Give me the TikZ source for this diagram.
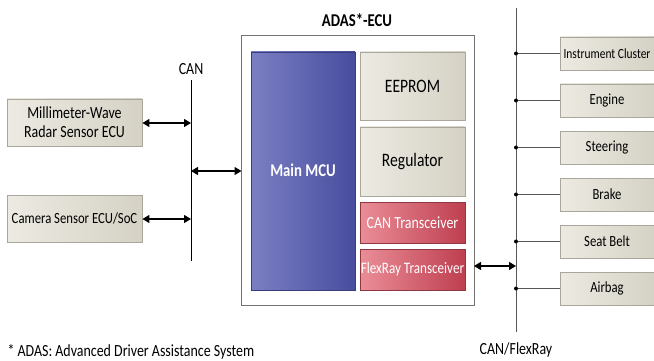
\documentclass[tikz,border=0pt]{standalone}
\usepackage{fontspec}
\setmainfont[FakeStretch=0.82]{Carlito}
\usetikzlibrary{arrows.meta}
\definecolor{beigeL}{HTML}{ECEAE2}
\definecolor{beigeR}{HTML}{D5D2C5}
\definecolor{beigeB}{HTML}{A9A79C}
\definecolor{blueL}{HTML}{7B80C3}
\definecolor{blueR}{HTML}{474C9E}
\definecolor{redL}{HTML}{EA8D97}
\definecolor{redR}{HTML}{BE3F50}
\definecolor{redB}{HTML}{8E3845}
\definecolor{busgray}{HTML}{555555}
\newcommand{\fs}[1]{\fontsize{#1}{#1}\selectfont}
\tikzset{
  graybox/.style={draw=beigeB, line width=0.8pt, left color=beigeL, right color=beigeR, align=center, font=\fs{16}, inner sep=0pt},
  redbox/.style={draw=redB, line width=0.8pt, left color=redL, right color=redR, text=white, inner sep=0pt},
  bidir/.style={{Triangle[length=7pt,width=8pt]}-{Triangle[length=7pt,width=8pt]}, line width=1.1pt, black},
  tap/.style={line width=0.9pt, busgray},
  busline/.style={line width=1pt, busgray},
  dot/.style={circle, fill=black, inner sep=0pt, minimum size=4pt},
}
\begin{document}
\begin{tikzpicture}[x=1pt,y=-1pt]
\useasboundingbox (0,0) rectangle (654,361);
% ECU
\node[font=\fs{18}\bfseries] (ecutitle) at (357,20) {ADAS*-ECU};
\draw[draw=gray!90!black, line width=1pt, fill=white] (241.5,36) rectangle (474,305);
\coordinate (ecuL) at (241.5,171);
\coordinate (ecuR) at (474,266);
\shade[left color=blueL, right color=blueR, draw=blueR!80!black, line width=0.6pt] (251,52) rectangle (355,290);
\node[text=white, font=\fs{18}\bfseries] (mcu) at (303,170) {Main MCU};
\node[graybox, minimum width=105pt, minimum height=68pt, font=\fs{19}] (eeprom) at (412.5,86) {EEPROM};
\node[graybox, minimum width=105pt, minimum height=69pt, font=\fs{19}] (reg) at (412.5,161.5) {Regulator};
\node[redbox, minimum width=105pt, minimum height=41pt, font=\fs{17}] (cant) at (412.5,222.5) {CAN Transceiver};
\node[redbox, minimum width=105pt, minimum height=41pt, font=\fs{16}] (frt) at (412.5,269.5) {FlexRay Transceiver};
% CAN bus
\coordinate (canT) at (191,80);
\coordinate (canB) at (191,261);
\draw[line width=1pt, black] (canT) -- (canB);
\node[font=\fs{17}] (canlbl) at (191,69) {CAN};
\node[graybox, minimum width=135pt, minimum height=47pt, font=\fontsize{17}{19}\selectfont] (radar) at (74.5,122.5) {Millimeter-Wave\\Radar Sensor ECU};
\node[graybox, minimum width=135pt, minimum height=47pt, font=\fs{15.5}] (camera) at (74.5,218.5) {Camera Sensor ECU/SoC};
\coordinate (canR) at (191,123);
\coordinate (canC) at (191,219);
\coordinate (canE) at (191,171);
\draw[bidir] (radar.east |- canR) -- (canR);
\draw[bidir] (camera.east |- canC) -- (canC);
\draw[bidir] (canE) -- (ecuL);
% FlexRay bus
\coordinate (frT) at (516,8);
\coordinate (frB) at (516,332);
\draw[busline] (frT) -- (frB);
\node[font=\fs{17}] (frlbl) at (516,350) {CAN/FlexRay};
\coordinate (frE) at (516,266);
\draw[bidir] (ecuR) -- (frE);
\node[graybox, minimum width=94pt, minimum height=33pt, font=\fs{14}] (ic) at (607,53.5) {Instrument Cluster};
\foreach \n/\t/\y in {eng/Engine/100.5, ste/Steering/147.5, brk/Brake/194.5, sb/Seat Belt/241.5, ab/Airbag/288.5} {
  \node[graybox, minimum width=94pt, minimum height=33pt, font=\fs{15.5}] (\n) at (607,\y) {\t};
}
\foreach \n/\y in {ic/53.5, eng/100.5, ste/147.5, brk/194.5, sb/241.5, ab/288.5} {
  \node[dot] (dot\n) at (516,\y) {};
  \draw[tap] (dot\n) -- (\n.west);
}
\node[anchor=base west, font=\fs{17}] (foot) at (4,356.5) {* ADAS: Advanced Driver Assistance System};
\end{tikzpicture}
\end{document}
